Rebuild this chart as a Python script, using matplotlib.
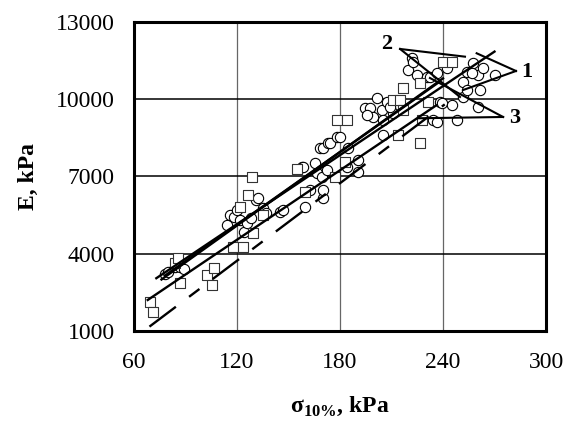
import matplotlib
matplotlib.use("Agg")
import matplotlib.pyplot as plt

# scatter data (sigma_10%, E)
circ_x = [78, 80, 84, 87, 89, 114, 116, 118, 120, 122, 124, 126, 128, 131, 132, 135, 137, 145, 147,
          157.7, 158.6, 159.6, 162.5, 165.4, 166.4, 168.3, 169.3, 170.3, 170.3, 170.3, 172.2, 173.2,
          174.2, 178.1, 180, 183.9, 184.9, 190.6, 190.6,
          194.6, 197.5, 199.4, 201.4, 204.3, 205.2, 205.2, 207.2, 211, 219.9, 221.8, 222.7, 224.7,
          230.5, 232.4, 234.4, 236.3, 238.2, 239.2, 242.1, 245, 248, 251.8, 251.8, 253.8, 253.8,
          257.7, 260.6, 260.6, 261.6, 263.5, 270.3, 236.3, 256.7, 196, 209]
circ_y = [3200, 3300, 3480, 3500, 3400, 5120, 5500, 5440, 5700, 5300, 4860, 5200, 5400, 6090, 6150,
          5770, 5600, 5630, 5700,
          7380, 7380, 5830, 6480, 7510, 7125, 8100, 6990, 6150, 6480, 8100, 7250, 8290,
          8290, 8550, 8550, 7380, 8100, 7640, 7190,
          9650, 9650, 9320, 10040, 9580, 9195, 8610, 9900, 9455, 11136, 11590, 11460, 10940,
          10876, 10876, 9195, 9130, 9905, 9840, 11200, 9777, 9195, 10680, 10100, 11070, 10360,
          11400, 10940, 9710, 10360, 11200, 10940, 11010, 11010, 9400, 9700]

sq_x = [69.3, 71.2, 84, 85.8, 86.8, 102.3, 105.3, 106.8, 117.8, 123.7, 121.7, 126.6, 128.6, 129.5,
        135.3, 154.8, 159.6, 177.1, 178.1, 183.9, 182.9, 211, 215, 216.9, 216.9, 214, 226.6, 231.4,
        227.6, 226.6, 240.2, 245]
sq_y = [2140, 1750, 3650, 3820, 2850, 3180, 2790, 3440, 4275, 4275, 5830, 6280, 6990, 4800,
        5510, 7280, 6410, 6990, 9195, 9195, 7580, 9970, 9970, 10426, 9583, 8612, 10620, 9905,
        9195, 8290, 11459, 11459]

# regression lines (end points)
solid_lines = [([73, 270], [3050, 11850]),
               ([76, 240], [3000, 10810]),
               ([78, 238], [3150, 10680]),
               ([68, 236], [2205, 9760])]
dash_x = [69, 241]
dash_y = [1170, 9800]

# labels 1, 2, 3 with leader line ends
lab_text = ["1", "2", "3"]
lab_pos = [(288.7, 11070), (207.2, 12146), (282, 9261)]
lead_start = [(282.5, 11097), (215, 11952), (275, 9311)]
lead_ends = [[(259.6, 11785), (251.8, 10360)],
             [(252.8, 11653), (249.9, 10088)],
             [(232.4, 10825), (225.6, 9261)]]

plt.rcParams['font.family'] = ['Liberation Serif', 'DejaVu Serif']
plt.rcParams['mathtext.fontset'] = 'custom'
plt.rcParams['mathtext.rm'] = 'Liberation Serif'
plt.rcParams['mathtext.bf'] = 'Liberation Serif:bold'

fig = plt.figure(figsize=(5.7, 4.26), dpi=100)
ax = fig.add_axes([0.2351, 0.223, 0.7228, 0.7254])

ax.scatter(circ_x, circ_y, s=55, marker='o', facecolor='white', edgecolor='black', linewidth=0.8, zorder=3)
ax.scatter(sq_x, sq_y, s=55, marker='s', facecolor='white', edgecolor='#333333', linewidth=0.8, zorder=3)

for lx, ly in solid_lines:
    ax.plot(lx, ly, color='black', lw=1.7, zorder=4)
ax.plot(dash_x, dash_y, color='black', lw=1.7, linestyle=(0, (14, 7, 5.5, 7)), zorder=4)

for t, p, s, ends in zip(lab_text, lab_pos, lead_start, lead_ends):
    ax.text(p[0], p[1], t, fontsize=16, fontweight='bold', ha='center', va='center', zorder=5)
    for e in ends:
        ax.plot([s[0], e[0]], [s[1], e[1]], color='black', lw=1.5, zorder=5, clip_on=False)

ax.set_xlim(60, 300)
ax.set_ylim(1000, 13000)
ax.set_xticks([60, 120, 180, 240, 300])
ax.set_yticks([1000, 4000, 7000, 10000, 13000])
ax.tick_params(length=0, labelsize=17)
ax.tick_params(axis='y', pad=14)
ax.tick_params(axis='x', pad=15)
ax.xaxis.grid(True, color='#666666', lw=0.9)
ax.yaxis.grid(True, color='black', lw=1.1)
ax.set_axisbelow(True)
for sp in ax.spines.values():
    sp.set_linewidth(2.2)

ax.set_xlabel(r'$\mathbf{\sigma}_{\mathbf{10\%}}$, kPa', fontsize=17, fontweight='bold', labelpad=16)
ax.set_ylabel('E, kPa', fontsize=17, fontweight='bold', labelpad=12)

fig.savefig('out.png', dpi=100)
